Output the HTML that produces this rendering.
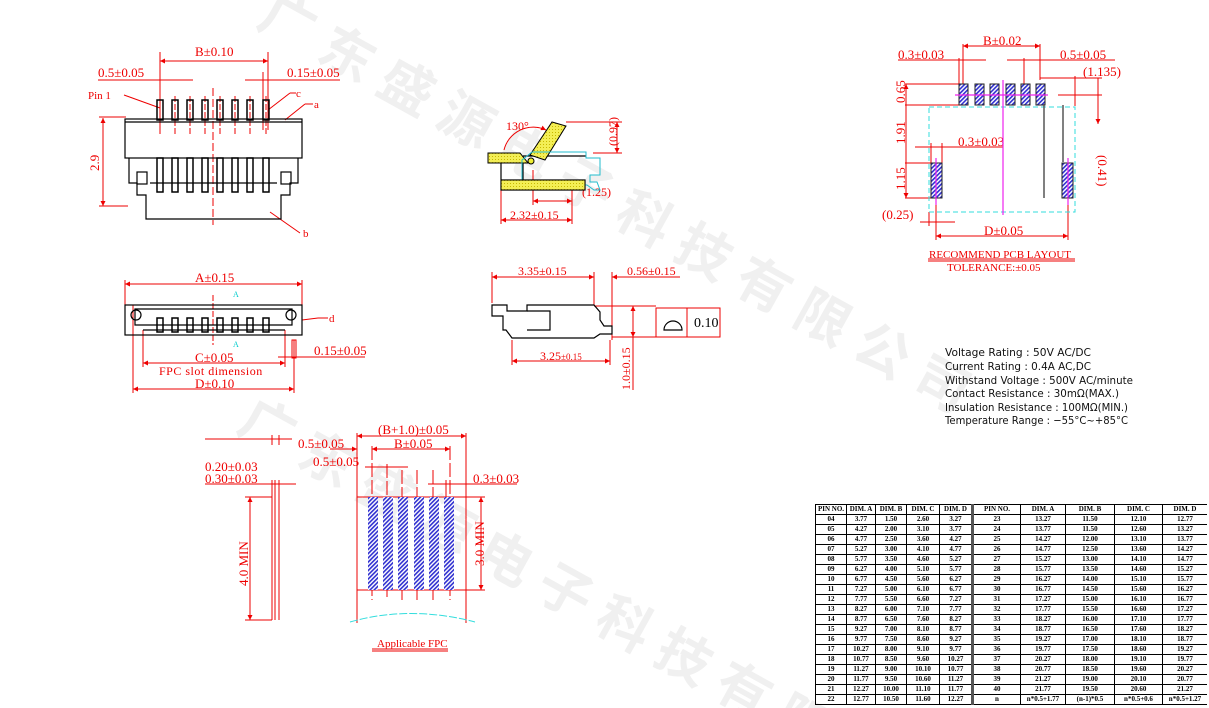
<!DOCTYPE html>
<html style="overflow:hidden;height:708px"><head><meta charset="utf-8"><style>
body{margin:0;background:#fff;width:1209px;height:708px;overflow:hidden;position:relative}
svg{position:absolute;left:0;top:0;overflow:hidden}
.tw{position:absolute;left:815px;top:504px;width:392px;height:202px;overflow:hidden}
table{width:392px;border-collapse:collapse;font:bold 7px "Liberation Serif",serif;table-layout:fixed}
td{border:1px solid #000;text-align:center;padding:0;height:9px;line-height:9px;white-space:nowrap;overflow:hidden}
td.s{border-left:3px solid #555}
</style></head><body>
<svg width="1209" height="708" viewBox="0 0 1209 708" xmlns="http://www.w3.org/2000/svg">
<defs>
<marker id="a" viewBox="0 0 10 10" refX="10" refY="5" markerWidth="8" markerHeight="5" orient="auto-start-reverse"><path d="M0,0L10,5L0,10z" fill="#e00"/></marker>
<pattern id="h" width="3" height="3" patternUnits="userSpaceOnUse" patternTransform="rotate(45)"><rect width="3" height="3" fill="#fff"/><rect width="1.6" height="3" fill="#3030d0"/></pattern>
<pattern id="y" width="3" height="3" patternUnits="userSpaceOnUse"><rect width="3" height="3" fill="#f3ee55"/><rect width="1" height="1" fill="#c8b800"/></pattern>
</defs>
<g font-family="Noto Sans CJK SC, sans-serif" font-size="54" fill="#f0f0f0" font-weight="bold">
<text transform="translate(255,25) rotate(29)" letter-spacing="14">广东盛源电子科技有限公司</text>
<text transform="translate(235,430) rotate(29)" letter-spacing="14">广东盛源电子科技有限</text>
</g>
<g font-family="Liberation Serif, serif" font-size="13" fill="#e00" stroke="none">
<text x="195" y="56">B±0.10</text>
<text x="98" y="77">0.5±0.05</text>
<text x="287" y="77">0.15±0.05</text>
<text x="88" y="99" font-size="11">Pin 1</text>
<text x="296" y="97" font-size="11">c</text>
<text x="314" y="108" font-size="11">a</text>
<text x="303" y="237" font-size="11">b</text>
<text transform="translate(99,171) rotate(-90)">2.9</text>
<text x="195" y="282">A±0.15</text>
<text x="195" y="362">C±0.05</text>
<text x="159" y="375" font-size="12" letter-spacing="0.5">FPC slot dimension</text>
<text x="195" y="388">D±0.10</text>
<text x="314" y="355">0.15±0.05</text>
<text x="329" y="322" font-size="11">d</text>
<text x="233" y="297" font-size="8" fill="#0cc">A</text>
<text x="233" y="347" font-size="8" fill="#0cc">A</text>
<text x="506" y="130" font-size="12">130°</text>
<text transform="translate(617,146) rotate(-90)" font-size="12">(0.97)</text>
<text x="582" y="196" font-size="12">(1.25)</text>
<text x="510" y="219" font-size="12">2.32±0.15</text>
<text x="518" y="275" font-size="12">3.35±0.15</text>
<text x="627" y="275" font-size="12">0.56±0.15</text>
<text x="540" y="360" font-size="12">3.25<tspan font-size="9">±0.15</tspan></text>
<text transform="translate(630,390) rotate(-90)" font-size="12">1.0±0.15</text>
<text x="983" y="45">B±0.02</text>
<text x="898" y="59">0.3±0.03</text>
<text x="1060" y="59">0.5±0.05</text>
<text x="1083" y="76">(1.135)</text>
<text transform="translate(905,103) rotate(-90)">0.65</text>
<text transform="translate(905,144) rotate(-90)">1.91</text>
<text transform="translate(905,190) rotate(-90)">1.15</text>
<text x="958" y="146">0.3±0.03</text>
<text transform="translate(1098,155) rotate(90)">(0.41)</text>
<text x="882" y="219">(0.25)</text>
<text x="984" y="235">D±0.05</text>
<text x="929" y="258" font-size="11">RECOMMEND PCB LAYOUT</text>
<text x="947" y="271" font-size="11">TOLERANCE:±0.05</text>
<text x="378" y="434">(B+1.0)±0.05</text>
<text x="298" y="448">0.5±0.05</text>
<text x="394" y="448">B±0.05</text>
<text x="313" y="466">0.5±0.05</text>
<text x="205" y="471">0.20±0.03</text>
<text x="205" y="483">0.30±0.03</text>
<text x="473" y="483">0.3±0.03</text>
<text transform="translate(248,586) rotate(-90)">4.0 MIN</text>
<text transform="translate(484,566) rotate(-90)">3.0 MIN</text>
<text x="377" y="647" font-size="11">Applicable FPC</text>
</g>
<g fill="#000" font-family="Liberation Serif, serif" font-size="14"><text x="694" y="327">0.10</text></g>
<g font-family="DejaVu Sans, sans-serif" font-size="11" fill="#111">
<text x="945" y="356" textLength="146" lengthAdjust="spacingAndGlyphs">Voltage Rating : 50V AC/DC</text>
<text x="945" y="370" textLength="146" lengthAdjust="spacingAndGlyphs">Current Rating : 0.4A AC,DC</text>
<text x="945" y="384" textLength="188" lengthAdjust="spacingAndGlyphs">Withstand Voltage : 500V AC/minute</text>
<text x="945" y="397" textLength="174" lengthAdjust="spacingAndGlyphs">Contact Resistance : 30mΩ(MAX.)</text>
<text x="945" y="411" textLength="183" lengthAdjust="spacingAndGlyphs">Insulation Resistance : 100MΩ(MIN.)</text>
<text x="945" y="424" textLength="183" lengthAdjust="spacingAndGlyphs">Temperature Range : −55°C~+85°C</text>
</g>
<g stroke="#e00" stroke-width="1" fill="none">
<line x1="160" y1="61" x2="268" y2="61" marker-start="url(#a)" marker-end="url(#a)"/>
<line x1="160" y1="52" x2="160" y2="130"/><line x1="268" y1="52" x2="268" y2="130"/>
<line x1="98" y1="80" x2="193" y2="80"/><line x1="160" y1="80" x2="175" y2="80"/>
<line x1="245" y1="80" x2="340" y2="80"/>
<line x1="263" y1="72" x2="263" y2="130"/>
<line x1="124" y1="95" x2="160" y2="108"/><line x1="268" y1="110" x2="290" y2="93"/><line x1="290" y1="93" x2="296" y2="93"/>
<line x1="285" y1="120" x2="305" y2="104"/><line x1="305" y1="104" x2="313" y2="104"/>
<line x1="270" y1="212" x2="300" y2="233"/>
<line x1="103" y1="118" x2="103" y2="206" marker-start="url(#a)" marker-end="url(#a)"/>
<line x1="99" y1="117" x2="126" y2="117"/><line x1="99" y1="206" x2="128" y2="206"/>
<line x1="213" y1="88" x2="213" y2="225" stroke-dasharray="8,3"/>
<g stroke-dasharray="6,2"><line x1="160" y1="96" x2="160" y2="135"/><line x1="175" y1="96" x2="175" y2="135"/><line x1="190" y1="96" x2="190" y2="135"/><line x1="205" y1="96" x2="205" y2="135"/><line x1="220" y1="96" x2="220" y2="135"/><line x1="235" y1="96" x2="235" y2="135"/><line x1="250" y1="96" x2="250" y2="135"/><line x1="266" y1="96" x2="266" y2="135"/></g>
<line x1="125" y1="284" x2="302" y2="284" marker-start="url(#a)" marker-end="url(#a)"/>
<line x1="125" y1="280" x2="125" y2="310"/><line x1="302" y1="280" x2="302" y2="310"/>
<line x1="143" y1="363" x2="285" y2="363" marker-start="url(#a)" marker-end="url(#a)"/>
<line x1="143" y1="330" x2="143" y2="367"/><line x1="285" y1="330" x2="285" y2="367"/>
<line x1="133" y1="389" x2="294" y2="389" marker-start="url(#a)" marker-end="url(#a)"/>
<line x1="133" y1="305" x2="133" y2="393"/><line x1="294" y1="340" x2="294" y2="393"/>
<line x1="278" y1="357" x2="365" y2="357"/><rect x="292" y="340" width="4" height="18"/>
<line x1="302" y1="320" x2="318" y2="318"/><line x1="318" y1="318" x2="328" y2="318"/>
<line x1="213" y1="295" x2="213" y2="345" stroke-dasharray="6,2"/>
<path d="M504,150 A30,30 0 0 1 546,130" marker-end="url(#a)"/>
<line x1="566" y1="122" x2="622" y2="122"/><line x1="593" y1="153" x2="622" y2="153"/>
<line x1="617" y1="122" x2="617" y2="153" marker-start="url(#a)" marker-end="url(#a)"/>
<line x1="533" y1="201" x2="572" y2="201" marker-start="url(#a)" marker-end="url(#a)"/>
<line x1="533" y1="170" x2="533" y2="205"/><line x1="572" y1="180" x2="572" y2="224"/>
<line x1="501" y1="220" x2="572" y2="220" marker-start="url(#a)" marker-end="url(#a)"/>
<line x1="501" y1="185" x2="501" y2="224"/>
<line x1="492" y1="277" x2="594" y2="277" marker-start="url(#a)" marker-end="url(#a)"/>
<line x1="492" y1="272" x2="492" y2="303"/><line x1="594" y1="272" x2="594" y2="305"/><line x1="612" y1="272" x2="612" y2="340"/>
<line x1="612" y1="277" x2="680" y2="277" marker-start="url(#a)"/>
<line x1="594" y1="306" x2="656" y2="306"/><line x1="612" y1="337" x2="656" y2="337"/>
<line x1="633" y1="306" x2="633" y2="337" marker-start="url(#a)" marker-end="url(#a)"/>
<line x1="633" y1="337" x2="633" y2="390"/>
<line x1="512" y1="361" x2="610" y2="361" marker-start="url(#a)" marker-end="url(#a)"/>
<line x1="512" y1="340" x2="512" y2="365"/><line x1="610" y1="340" x2="610" y2="365"/>
<rect x="656" y="308" width="64" height="29"/><line x1="687" y1="308" x2="687" y2="337"/>
<line x1="963" y1="46" x2="1040" y2="46" marker-start="url(#a)" marker-end="url(#a)"/>
<line x1="963" y1="44" x2="963" y2="84"/><line x1="1040" y1="44" x2="1040" y2="80"/>
<line x1="898" y1="60" x2="986" y2="60"/><line x1="959" y1="58" x2="959" y2="84"/>
<line x1="1007" y1="60" x2="1115" y2="60"/><line x1="1024" y1="58" x2="1024" y2="84"/>
<line x1="1040" y1="78" x2="1102" y2="78"/><line x1="1075" y1="76" x2="1075" y2="106"/>
<line x1="1098" y1="78" x2="1098" y2="124" marker-end="url(#a)"/>
<line x1="1058" y1="95" x2="1102" y2="95"/>
<line x1="905" y1="84" x2="960" y2="84"/><line x1="905" y1="105" x2="960" y2="105"/>
<line x1="905" y1="163" x2="935" y2="163"/><line x1="905" y1="198" x2="935" y2="198"/>
<line x1="906" y1="84" x2="906" y2="198" marker-start="url(#a)" marker-end="url(#a)"/>
<line x1="915" y1="147" x2="1003" y2="147"/><line x1="931" y1="143" x2="931" y2="170"/><line x1="942" y1="143" x2="942" y2="170"/>
<line x1="920" y1="222" x2="955" y2="222"/><line x1="929" y1="212" x2="929" y2="226"/><line x1="936" y1="190" x2="936" y2="240"/>
<line x1="1068" y1="190" x2="1068" y2="240"/>
<line x1="936" y1="236" x2="1068" y2="236" marker-start="url(#a)" marker-end="url(#a)"/>
<line x1="928" y1="259" x2="1075" y2="259"/><line x1="928" y1="261" x2="1075" y2="261"/>
<line x1="357" y1="436" x2="466" y2="436" marker-start="url(#a)" marker-end="url(#a)"/>
<line x1="357" y1="433" x2="357" y2="623"/><line x1="466" y1="433" x2="466" y2="623"/>
<line x1="372" y1="449" x2="450" y2="449" marker-start="url(#a)" marker-end="url(#a)"/>
<line x1="330" y1="449" x2="357" y2="449" marker-end="url(#a)"/>
<line x1="372" y1="446" x2="372" y2="600" stroke-dasharray="14,3"/><line x1="450" y1="446" x2="450" y2="600" stroke-dasharray="14,3"/>
<line x1="365" y1="467" x2="408" y2="467"/><line x1="387" y1="464" x2="387" y2="600" stroke-dasharray="14,3"/>
<line x1="402" y1="470" x2="402" y2="600" stroke-dasharray="14,3"/><line x1="417" y1="470" x2="417" y2="600" stroke-dasharray="14,3"/><line x1="433" y1="470" x2="433" y2="600" stroke-dasharray="14,3"/>
<line x1="428" y1="484" x2="517" y2="484"/><line x1="446" y1="480" x2="446" y2="497"/>
<line x1="205" y1="439" x2="292" y2="439"/><line x1="272" y1="435" x2="272" y2="445"/><line x1="279" y1="435" x2="279" y2="445"/>
<line x1="205" y1="484" x2="296" y2="484"/><line x1="272" y1="480" x2="272" y2="620"/><line x1="275" y1="480" x2="275" y2="620"/><line x1="279" y1="480" x2="279" y2="620"/>
<line x1="250" y1="497" x2="250" y2="620" marker-start="url(#a)" marker-end="url(#a)"/>
<line x1="245" y1="497" x2="272" y2="497"/><line x1="245" y1="620" x2="272" y2="620"/>
<line x1="357" y1="497" x2="485" y2="497"/><line x1="357" y1="590" x2="485" y2="590"/>
<line x1="481" y1="497" x2="481" y2="590" marker-start="url(#a)" marker-end="url(#a)"/>
<line x1="372" y1="649" x2="448" y2="649"/><line x1="372" y1="651" x2="448" y2="651"/>
</g>
<g stroke="#000" stroke-width="1.2" fill="none">
<rect x="125" y="119" width="177" height="39"/>
<line x1="125" y1="122" x2="302" y2="122"/>
<path d="M129,158V183H137V195H146V219H281V195H290V183H298V158"/>
<rect x="137" y="172" width="10" height="12"/><rect x="281" y="172" width="10" height="12"/>
<line x1="150" y1="183" x2="277" y2="183"/>
<g stroke-width="1.5"><rect x="157" y="100" width="6" height="20"/><rect x="172" y="100" width="6" height="20"/><rect x="187" y="100" width="6" height="20"/><rect x="202" y="100" width="6" height="20"/><rect x="217" y="100" width="6" height="20"/><rect x="232" y="100" width="6" height="20"/><rect x="247" y="100" width="6" height="20"/><rect x="263" y="100" width="6" height="20"/>
<rect x="157" y="158" width="6" height="34"/><rect x="172" y="158" width="6" height="34"/><rect x="187" y="158" width="6" height="34"/><rect x="202" y="158" width="6" height="34"/><rect x="217" y="158" width="6" height="34"/><rect x="232" y="158" width="6" height="34"/><rect x="247" y="158" width="6" height="34"/><rect x="263" y="158" width="6" height="34"/></g>
<rect x="125" y="305" width="177" height="30"/>
<path d="M135,309H292V325H135Z"/><line x1="143" y1="330" x2="285" y2="330"/>
<circle cx="136" cy="315" r="5"/><circle cx="291" cy="315" r="5"/>
<g stroke-width="1.5"><rect x="157" y="318" width="6" height="14"/><rect x="172" y="318" width="6" height="14"/><rect x="187" y="318" width="6" height="14"/><rect x="202" y="318" width="6" height="14"/><rect x="217" y="318" width="6" height="14"/><rect x="232" y="318" width="6" height="14"/><rect x="247" y="318" width="6" height="14"/><rect x="263" y="318" width="6" height="14"/></g>
<path d="M501,160H523V180H501ZM501,180H585V190H501ZM523,156H586"/>
<path d="M492,305H507V311H527V305H594L600,312V320L604,326H612V334H600L594,338H512L506,330H503V316L492,316Z"/>
<path d="M527,311H550V330H527"/>
<path d="M664,330A9,9 0 0 1 682,330Z"/>
</g>
<path d="M488,153H520L528,163H488Z" fill="url(#y)" stroke="#000"/>
<path d="M530,155L552,122L566,126L545,160Z" fill="url(#y)" stroke="#000"/>
<path d="M522,160L532,152H586V158H600V175H590V182H597L600,190H594L587,185H530L522,180Z" fill="none" stroke="#2bc" stroke-width="1"/>
<circle cx="531" cy="161" r="3" fill="#ee3" stroke="#000"/>
<path d="M501,180H585V190H501Z" fill="url(#y)" stroke="#000"/>
<rect x="929" y="107" width="146" height="105" fill="none" stroke="#3dd" stroke-dasharray="5,3"/>
<g fill="url(#h)" stroke="#222"><rect x="959" y="84" width="9" height="21"/><rect x="975" y="84" width="9" height="21"/><rect x="990" y="84" width="9" height="21"/><rect x="1006" y="84" width="9" height="21"/><rect x="1021" y="84" width="9" height="21"/><rect x="1036" y="84" width="9" height="21"/>
<rect x="931" y="163" width="11" height="35"/><rect x="1062" y="163" width="11" height="35"/></g>
<g stroke="#e2e" stroke-width="1.2"><line x1="1003" y1="80" x2="1003" y2="215"/><line x1="955" y1="95" x2="1048" y2="95"/><line x1="936" y1="158" x2="936" y2="205"/><line x1="1068" y1="158" x2="1068" y2="205"/></g>
<g stroke="#555" stroke-width="1.5"><line x1="1044" y1="104" x2="1044" y2="198"/><line x1="1063" y1="105" x2="1063" y2="162"/></g>
<g fill="url(#h)"><rect x="368" y="497" width="10" height="93"/><rect x="383" y="497" width="10" height="93"/><rect x="398" y="497" width="10" height="93"/><rect x="414" y="497" width="10" height="93"/><rect x="429" y="497" width="10" height="93"/><rect x="444" y="497" width="10" height="93"/></g>
<path d="M350,622Q410,605 475,622" fill="none" stroke="#3dd" stroke-dasharray="8,2"/>
</svg>
<div class="tw"><table>
<colgroup><col style="width:31px"><col style="width:29px"><col style="width:31px"><col style="width:33px"><col style="width:33px"><col style="width:48px"><col style="width:45px"><col style="width:49px"><col style="width:48px"><col style="width:45px"></colgroup>
<tr><td>PIN NO.</td><td>DIM. A</td><td>DIM. B</td><td>DIM. C</td><td>DIM. D</td><td class="s">PIN NO.</td><td>DIM. A</td><td>DIM. B</td><td>DIM. C</td><td>DIM. D</td></tr>
<tr><td>04</td><td>3.77</td><td>1.50</td><td>2.60</td><td>3.27</td><td class="s">23</td><td>13.27</td><td>11.50</td><td>12.10</td><td>12.77</td></tr>
<tr><td>05</td><td>4.27</td><td>2.00</td><td>3.10</td><td>3.77</td><td class="s">24</td><td>13.77</td><td>11.50</td><td>12.60</td><td>13.27</td></tr>
<tr><td>06</td><td>4.77</td><td>2.50</td><td>3.60</td><td>4.27</td><td class="s">25</td><td>14.27</td><td>12.00</td><td>13.10</td><td>13.77</td></tr>
<tr><td>07</td><td>5.27</td><td>3.00</td><td>4.10</td><td>4.77</td><td class="s">26</td><td>14.77</td><td>12.50</td><td>13.60</td><td>14.27</td></tr>
<tr><td>08</td><td>5.77</td><td>3.50</td><td>4.60</td><td>5.27</td><td class="s">27</td><td>15.27</td><td>13.00</td><td>14.10</td><td>14.77</td></tr>
<tr><td>09</td><td>6.27</td><td>4.00</td><td>5.10</td><td>5.77</td><td class="s">28</td><td>15.77</td><td>13.50</td><td>14.60</td><td>15.27</td></tr>
<tr><td>10</td><td>6.77</td><td>4.50</td><td>5.60</td><td>6.27</td><td class="s">29</td><td>16.27</td><td>14.00</td><td>15.10</td><td>15.77</td></tr>
<tr><td>11</td><td>7.27</td><td>5.00</td><td>6.10</td><td>6.77</td><td class="s">30</td><td>16.77</td><td>14.50</td><td>15.60</td><td>16.27</td></tr>
<tr><td>12</td><td>7.77</td><td>5.50</td><td>6.60</td><td>7.27</td><td class="s">31</td><td>17.27</td><td>15.00</td><td>16.10</td><td>16.77</td></tr>
<tr><td>13</td><td>8.27</td><td>6.00</td><td>7.10</td><td>7.77</td><td class="s">32</td><td>17.77</td><td>15.50</td><td>16.60</td><td>17.27</td></tr>
<tr><td>14</td><td>8.77</td><td>6.50</td><td>7.60</td><td>8.27</td><td class="s">33</td><td>18.27</td><td>16.00</td><td>17.10</td><td>17.77</td></tr>
<tr><td>15</td><td>9.27</td><td>7.00</td><td>8.10</td><td>8.77</td><td class="s">34</td><td>18.77</td><td>16.50</td><td>17.60</td><td>18.27</td></tr>
<tr><td>16</td><td>9.77</td><td>7.50</td><td>8.60</td><td>9.27</td><td class="s">35</td><td>19.27</td><td>17.00</td><td>18.10</td><td>18.77</td></tr>
<tr><td>17</td><td>10.27</td><td>8.00</td><td>9.10</td><td>9.77</td><td class="s">36</td><td>19.77</td><td>17.50</td><td>18.60</td><td>19.27</td></tr>
<tr><td>18</td><td>10.77</td><td>8.50</td><td>9.60</td><td>10.27</td><td class="s">37</td><td>20.27</td><td>18.00</td><td>19.10</td><td>19.77</td></tr>
<tr><td>19</td><td>11.27</td><td>9.00</td><td>10.10</td><td>10.77</td><td class="s">38</td><td>20.77</td><td>18.50</td><td>19.60</td><td>20.27</td></tr>
<tr><td>20</td><td>11.77</td><td>9.50</td><td>10.60</td><td>11.27</td><td class="s">39</td><td>21.27</td><td>19.00</td><td>20.10</td><td>20.77</td></tr>
<tr><td>21</td><td>12.27</td><td>10.00</td><td>11.10</td><td>11.77</td><td class="s">40</td><td>21.77</td><td>19.50</td><td>20.60</td><td>21.27</td></tr>
<tr><td>22</td><td>12.77</td><td>10.50</td><td>11.60</td><td>12.27</td><td class="s">n</td><td>n*0.5+1.77</td><td>(n-1)*0.5</td><td>n*0.5+0.6</td><td>n*0.5+1.27</td></tr>
</table></div>
</body></html>
